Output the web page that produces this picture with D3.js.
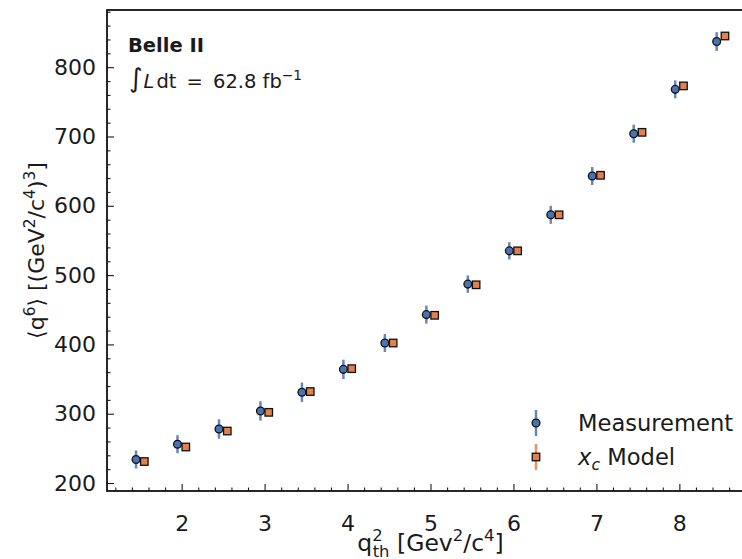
<!DOCTYPE html>
<html>
<head>
<meta charset="utf-8">
<script src="https://cdn.jsdelivr.net/npm/d3@7"></script>
<style>
  body { margin: 0; background: #fff; }
  text { font-family: "DejaVu Sans", sans-serif; fill: #1a1a1a; }
</style>
</head>
<body>
<div id="chart"></div>
<script>
// bin centres in q2_th and the two series
const binCentres = [1.5, 2, 2.5, 3, 3.5, 4, 4.5, 5, 5.5, 6, 6.5, 7, 7.5, 8, 8.5];
const measured = [234, 256, 278, 304, 331, 364, 402, 443, 487, 535, 587, 643, 704, 768, 837];
const measuredErr = [13, 13, 14, 14, 14, 14, 13, 13, 12.5, 12.5, 13, 13, 13, 13, 13.5];
const model = [231, 252, 275, 302, 332, 365, 402, 442, 486, 535, 587, 644, 706, 773, 845];
const modelErr = [4, 4, 4, 4, 4, 4, 4, 4, 4, 4, 4, 4, 4, 4, 4];
const xTicks = [2, 3, 4, 5, 6, 7, 8];
const yTicks = [200, 300, 400, 500, 600, 700, 800];

const W = 742, H = 559;
const blue = "#4c72b0", orange = "#e1814b";
const shift = 0.05; // horizontal offset of the two series around the bin centre

const svg = d3.select("#chart").append("svg")
    .attr("width", W)
    .attr("height", H);

const x = d3.scaleLinear().domain([1.1, 8.9]).range([107, 754]);
const y = d3.scaleLinear().domain([188.5, 882.5]).range([491, 10]);

// helper for super/subscripts
function rich(sel, parts, size) {
  let cur = 0;
  parts.forEach(p => {
    const target = p.sup ? -0.42 * size : p.sub ? 0.24 * size : 0;
    const ts = sel.append("tspan").text(p.t).attr("dy", target - cur);
    if (p.sup || p.sub) ts.attr("font-size", size * 0.7);
    if (p.it) ts.attr("font-style", "italic");
    if (p.dx) ts.attr("dx", p.dx);
    cur = target;
  });
}

// axes (ticks pointing inwards)
svg.append("g").attr("transform", "translate(0,491)")
    .call(d3.axisBottom(x).tickValues(xTicks).tickSize(-7).tickPadding(24).tickFormat(d3.format("d")));
svg.append("g").attr("transform", "translate(0,491)")
    .call(d3.axisBottom(x).tickValues(d3.range(1.2, 8.9, 0.2).filter(v => Math.abs(v - Math.round(v)) > 0.01))
      .tickSize(-3.5).tickFormat(""));
svg.append("g").attr("transform", "translate(107,0)")
    .call(d3.axisLeft(y).tickValues(yTicks).tickSize(-7).tickPadding(11).tickFormat(d3.format("d")));
svg.append("g").attr("transform", "translate(107,0)")
    .call(d3.axisLeft(y).tickValues(d3.range(220, 881, 20).filter(v => v % 100 !== 0))
      .tickSize(-3.5).tickFormat(""));

svg.selectAll(".domain").remove();
svg.selectAll(".tick line").attr("stroke", "#1a1a1a").attr("stroke-width", 1.1);
svg.selectAll(".tick text").attr("font-size", 22).attr("fill", "#1a1a1a");

// frame
svg.append("rect")
    .attr("x", x(1.1)).attr("y", y(882.5))
    .attr("width", x(8.9) - x(1.1)).attr("height", y(188.5) - y(882.5))
    .attr("fill", "none").attr("stroke", "#111").attr("stroke-width", 1.8);

// model error bars and squares
const sq = 7.5;
svg.append("g").selectAll("line").data(binCentres).join("line")
    .attr("x1", d => x(d + shift)).attr("x2", d => x(d + shift))
    .attr("y1", (d, i) => y(model[i] - modelErr[i])).attr("y2", (d, i) => y(model[i] + modelErr[i]))
    .attr("stroke", orange).attr("stroke-opacity", 0.8).attr("stroke-width", 2.5);
svg.append("g").selectAll("rect").data(binCentres).join("rect")
    .attr("x", d => x(d + shift) - sq / 2).attr("y", (d, i) => y(model[i]) - sq / 2)
    .attr("width", sq).attr("height", sq)
    .attr("fill", orange).attr("stroke", "#111").attr("stroke-width", 1.3);

// measurement error bars and circles
svg.append("g").selectAll("line").data(binCentres).join("line")
    .attr("x1", d => x(d - shift)).attr("x2", d => x(d - shift))
    .attr("y1", (d, i) => y(measured[i] - measuredErr[i])).attr("y2", (d, i) => y(measured[i] + measuredErr[i]))
    .attr("stroke", blue).attr("stroke-opacity", 0.85).attr("stroke-width", 2.5);
svg.append("g").selectAll("circle").data(binCentres).join("circle")
    .attr("cx", d => x(d - shift)).attr("cy", (d, i) => y(measured[i]))
    .attr("r", 3.9)
    .attr("fill", blue).attr("stroke", "#111").attr("stroke-width", 1.3);

// axis titles
const xl = svg.append("text").attr("x", x(5)).attr("y", 551).attr("font-size", 23.5)
    .attr("text-anchor", "middle");
rich(xl, [{ t: "q" }, { t: "2", sup: true }, { t: "th", sub: true, dx: -10 },
  { t: " [Gev" }, { t: "2", sup: true }, { t: "/c" }, { t: "4", sup: true }, { t: "]" }], 23.5);

const yl = svg.append("text").attr("transform", `translate(44,${(y(188.5) + y(882.5)) / 2}) rotate(-90)`)
    .attr("font-size", 22).attr("text-anchor", "middle");
rich(yl, [{ t: "⟨q" }, { t: "6", sup: true }, { t: "⟩ [(GeV" }, { t: "2", sup: true },
  { t: "/c" }, { t: "4", sup: true }, { t: ")" }, { t: "3", sup: true }, { t: "]" }], 22);

// experiment label
svg.append("text").attr("x", 128).attr("y", 52).attr("font-size", 19.5)
    .attr("font-weight", "bold").text("Belle II");
const lumi = svg.append("text").attr("x", 129).attr("y", 88).attr("font-size", 19.5);
lumi.append("tspan").attr("font-size", 26).attr("dy", -1).text("∫");
lumi.append("tspan").attr("dy", 1).attr("dx", 1).attr("font-style", "italic").text("L");
lumi.append("tspan").attr("dx", 2).text("dt\u2009 = \u200962.8 fb");
rich(lumi, [{ t: "−1", sup: true }], 19.5);

// legend
const legend = svg.append("g");
const lx = 536;
[{ y: 423, c: blue }, { y: 457, c: orange }].forEach((e, k) => {
  legend.append("line").attr("x1", lx).attr("x2", lx).attr("y1", e.y - 13).attr("y2", e.y + 13)
      .attr("stroke", e.c).attr("stroke-opacity", 0.85).attr("stroke-width", 2.5);
  if (k === 0) {
    legend.append("circle").attr("cx", lx).attr("cy", e.y).attr("r", 3.9)
        .attr("fill", blue).attr("stroke", "#111").attr("stroke-width", 1.3);
  } else {
    legend.append("rect").attr("x", lx - sq / 2).attr("y", e.y - sq / 2).attr("width", sq).attr("height", sq)
        .attr("fill", orange).attr("stroke", "#111").attr("stroke-width", 1.3);
  }
});
legend.append("text").attr("x", 578).attr("y", 431).attr("font-size", 22.6).text("Measurement");
const l2 = legend.append("text").attr("x", 578).attr("y", 465).attr("font-size", 22.6);
rich(l2, [{ t: "x", it: true }, { t: "c", sub: true, it: true }, { t: " Model" }], 22.6);
</script>
</body>
</html>
